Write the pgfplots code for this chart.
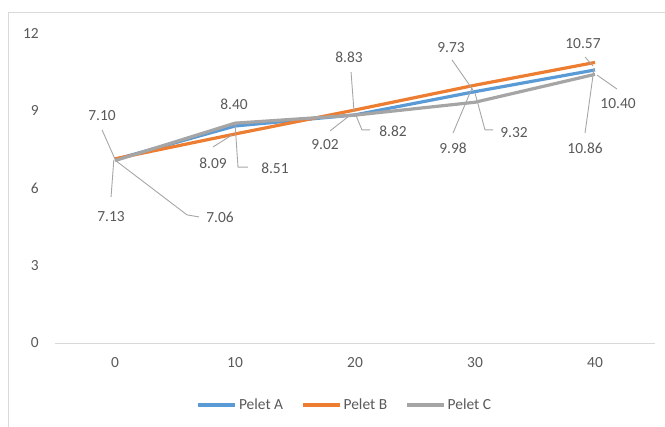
\documentclass[border=0pt]{standalone}
\usepackage{pgfplots}
\pgfplotsset{compat=1.18}
\usepackage{fontspec}
\setmainfont{Carlito}
\definecolor{ca}{HTML}{5B9BD5}
\definecolor{cb}{HTML}{ED7D31}
\definecolor{cc}{HTML}{A5A5A5}
\definecolor{txt}{HTML}{595959}
\definecolor{lead}{HTML}{A6A6A6}
\definecolor{frame}{HTML}{D9D9D9}
\begin{document}
\fontsize{15.5}{18}\selectfont
\begin{tikzpicture}[x=1bp,y=1bp]
\path[use as bounding box] (0,0) rectangle (665,426);
\draw[color=frame, line width=1bp] (8,-5) -- (8,413) -- (670,413);
\begin{axis}[at={(55bp,83bp)}, anchor=south west, scale only axis,
  width=600bp, height=310bp,
  xmin=-5, xmax=45, ymin=0, ymax=12,
  xtick={0,10,20,30,40}, ytick={0,3,6,9,12},
  axis lines*=left,
  x axis line style={draw=frame, line width=1bp},
  y axis line style={draw=none},
  major tick length=0pt,
  tick style={draw=none},
  /pgf/number format/assume math mode=true,
  ticklabel style={text=txt, font=\fontsize{15.5}{18}\selectfont},
  yticklabel style={xshift=-11bp},
  xticklabel style={yshift=-9bp},
  clip=false,
  legend style={at={(0.483,-0.2)}, anchor=center, draw=none, fill=none,
    legend columns=3, text=txt, font=\fontsize{15.5}{18}\selectfont,
    /tikz/every even column/.append style={column sep=16bp},
    inner sep=0pt, row sep=0pt},
  legend cell align=left,
  legend image code/.code={\draw[#1, line width=3.5bp] (0bp,0bp) -- (37bp,0bp);},
]
\addplot[color=ca, line width=3.2bp, line join=round] coordinates {(0,7.10) (10,8.40) (20,8.83) (30,9.73) (40,10.57)};
\addlegendentry{Pelet A}
\addplot[color=cb, line width=3.2bp, line join=round] coordinates {(0,7.13) (10,8.09) (20,9.02) (30,9.98) (40,10.86)};
\addlegendentry{Pelet B}
\addplot[color=cc, line width=3.2bp, line join=round] coordinates {(0,7.06) (10,8.51) (20,8.82) (30,9.32) (40,10.40)};
\addlegendentry{Pelet C}
% leader lines
\begin{scope}[draw=lead, line width=0.9bp]
\draw (axis cs:-1.08,8.25) -- (axis cs:0,7.12);
\draw (axis cs:-0.33,5.65) -- (axis cs:-0.1,7.08);
\draw (axis cs:0,7.08) -- (axis cs:6.0,4.96) -- (axis cs:7.0,4.88);
\draw (axis cs:8.17,7.59) -- (axis cs:9.75,8.05);
\draw (axis cs:10,8.51) -- (axis cs:10.25,6.81) -- (axis cs:11.08,6.81);
\draw (axis cs:19.67,10.49) -- (axis cs:19.92,8.94);
\draw (axis cs:17.92,8.21) -- (axis cs:19.4,8.75);
\draw (axis cs:20,8.9) -- (axis cs:20.58,8.25) -- (axis cs:21.25,8.25);
\draw (axis cs:28.08,10.96) -- (axis cs:29.83,9.79);
\draw (axis cs:28.17,8.13) -- (axis cs:29.75,9.87);
\draw (axis cs:30,9.68) -- (axis cs:30.83,8.25) -- (axis cs:31.5,8.25);
\draw (axis cs:39.17,11.07) -- (axis cs:39.83,10.72);
\draw (axis cs:41.83,9.83) -- (axis cs:40.17,10.37);
\draw (axis cs:39.17,8.13) -- (axis cs:39.92,10.65);
\end{scope}
% data labels
\begin{scope}[every node/.style={text=txt, inner sep=0pt}]
\node at (axis cs:-1.08,8.79) {7.10};
\node at (axis cs:-0.33,4.88) {7.13};
\node at (axis cs:8.75,4.88) {7.06};
\node at (axis cs:9.92,9.25) {8.40};
\node at (axis cs:8.17,6.97) {8.09};
\node at (axis cs:13.33,6.77) {8.51};
\node at (axis cs:19.5,11.07) {8.83};
\node at (axis cs:17.5,7.70) {9.02};
\node at (axis cs:23.17,8.21) {8.82};
\node at (axis cs:28.0,11.42) {9.73};
\node at (axis cs:28.17,7.55) {9.98};
\node at (axis cs:33.25,8.13) {9.32};
\node at (axis cs:39.0,11.61) {10.57};
\node at (axis cs:41.92,9.25) {10.40};
\node at (axis cs:39.17,7.55) {10.86};
\end{scope}
\end{axis}
\end{tikzpicture}
\end{document}
